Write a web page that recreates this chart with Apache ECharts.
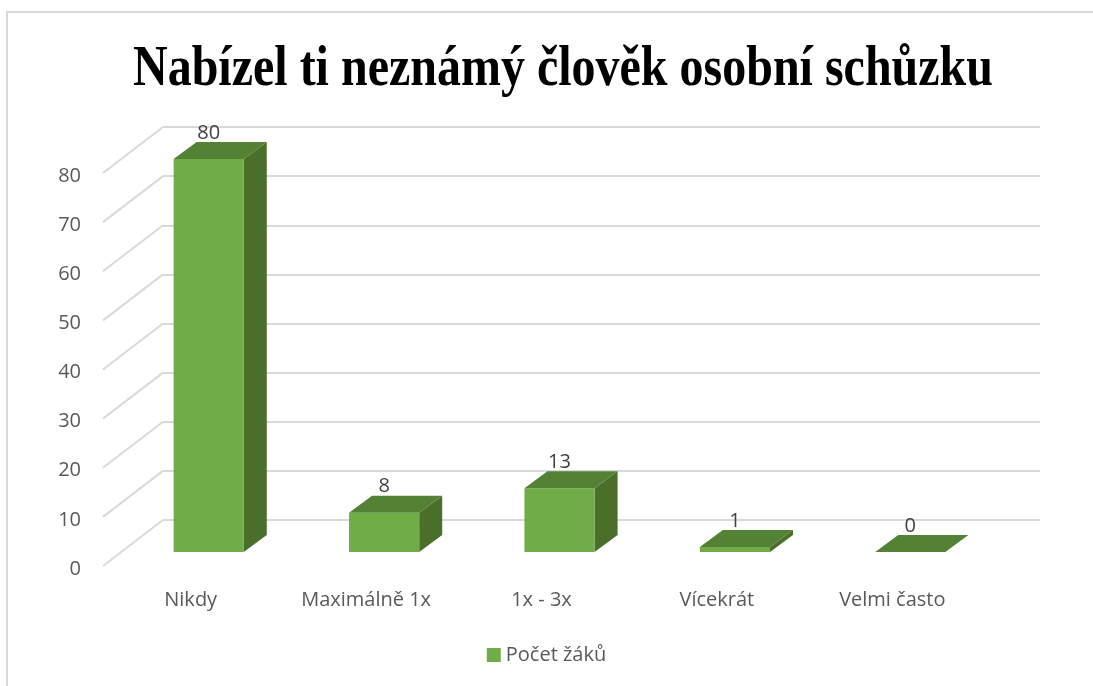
<!DOCTYPE html>
<html>
<head>
<meta charset="utf-8">
<script src="https://cdn.jsdelivr.net/npm/echarts@6/dist/echarts.min.js"></script>
<style>
  html, body { margin: 0; padding: 0; background: #fff; }
  #chart { width: 1093px; height: 686px; }
</style>
</head>
<body>
<div id="chart"></div>
<script>
const titleText = 'Nabízel ti neznámý člověk osobní schůzku'
const seriesName = 'Počet žáků'
const categories = ['Nikdy', 'Maximálně 1x', '1x - 3x', 'Vícekrát', 'Velmi často']
const values = [80, 8, 13, 1, 0]
const yTicks = [0, 10, 20, 30, 40, 50, 60, 70, 80]

// pseudo-3D: offset of bar faces from the back wall, in px
const FRONT = [-42, 32]
const BACK = [-19, 15]
const FLOOR = [-60, 46]

const titleFont = 'bold 58px "Liberation Serif", "Times New Roman", serif'
const ctx = document.createElement('canvas').getContext('2d')
ctx.font = titleFont
const titleScale = 860 / ctx.measureText(titleText).width

const chart = echarts.init(document.getElementById('chart'))

const renderBar = (params, api) => {
  const i = api.value(0)
  const v = api.value(1)
  const base = api.coord([i, 0])
  const top = api.coord([i, v])
  const w = api.size([1, 0])[0] * 0.4
  const fx = base[0] + FRONT[0] - w / 2
  const fy0 = base[1] + FRONT[1]
  const fy1 = top[1] + FRONT[1]
  const bx = base[0] + BACK[0] - w / 2
  const by0 = base[1] + BACK[1]
  const by1 = top[1] + BACK[1]
  return {
    type: 'group',
    children: [
      {
        type: 'polygon',
        shape: { points: [[fx + w, fy1], [bx + w, by1], [bx + w, by0], [fx + w, fy0]] },
        style: { fill: '#4A6F2A' },
      },
      {
        type: 'rect',
        shape: { x: fx, y: fy1, width: w, height: fy0 - fy1 },
        style: { fill: '#70AD47' },
      },
      {
        type: 'polygon',
        shape: { points: [[fx, fy1], [fx + w, fy1], [bx + w, by1], [bx, by1]] },
        style: { fill: '#548235' },
      },
      {
        type: 'text',
        x: fx + w / 2,
        y: by1 - 9,
        style: {
          text: String(v),
          fill: '#404040',
          font: '20px "Open Sans", sans-serif',
          align: 'center',
          verticalAlign: 'middle',
        },
      },
    ],
  }
}

const renderDiag = (params, api) => {
  const p = api.coord([0, api.value(1)])
  const x0 = p[0] - api.size([1, 0])[0] / 2
  return {
    type: 'line',
    shape: { x1: x0, y1: p[1], x2: x0 + FLOOR[0], y2: p[1] + FLOOR[1] },
    style: { stroke: '#D9D9D9', lineWidth: 2 },
  }
}

const option = {
  animation: false,
  graphic: [
    {
      type: 'rect',
      shape: { x: 7, y: 12, width: 1200, height: 800 },
      style: { fill: 'none', stroke: '#D9D9D9', lineWidth: 2 },
      z: -1,
    },
    {
      type: 'text',
      x: 563,
      y: 70,
      scaleX: titleScale,
      style: {
        text: titleText,
        font: titleFont,
        fill: '#000',
        align: 'center',
        verticalAlign: 'middle',
      },
    },
  ],
  legend: {
    data: [seriesName],
    bottom: 16,
    left: 'center',
    icon: 'rect',
    itemWidth: 14,
    itemHeight: 14,
    itemGap: 6,
    textStyle: { color: '#595959', fontSize: 20, fontFamily: 'Open Sans' },
  },
  grid: [
    // back wall
    { left: 163, right: 53, top: 127, bottom: 166 },
    // front edge of floor (for axis labels)
    { left: 103, right: 113, top: 176, bottom: 117 },
  ],
  xAxis: [
    {
      gridIndex: 0,
      type: 'category',
      data: categories,
      axisLine: { show: false },
      axisTick: { show: false },
      axisLabel: { show: false },
    },
    {
      gridIndex: 1,
      type: 'category',
      data: categories,
      axisLine: { show: false },
      axisTick: { show: false },
      axisLabel: { color: '#595959', fontSize: 20, fontFamily: 'Open Sans', margin: 21 },
    },
  ],
  yAxis: [
    {
      gridIndex: 0,
      type: 'value',
      min: 0,
      max: 80,
      interval: 10,
      axisLabel: { show: false },
      splitLine: { lineStyle: { color: '#D9D9D9', width: 2 } },
    },
    {
      gridIndex: 1,
      type: 'value',
      min: 0,
      max: 80,
      interval: 10,
      axisLabel: { color: '#595959', fontSize: 20, fontFamily: 'Open Sans', margin: 22 },
      splitLine: { show: false },
    },
  ],
  series: [
    {
      type: 'custom',
      name: 'diag',
      xAxisIndex: 0,
      yAxisIndex: 0,
      renderItem: renderDiag,
      data: yTicks.map((t) => [0, t]),
      z: 1,
      silent: true,
    },
    {
      type: 'custom',
      name: seriesName,
      xAxisIndex: 0,
      yAxisIndex: 0,
      itemStyle: { color: '#70AD47' },
      renderItem: renderBar,
      data: values.map((v, i) => [i, v]),
      z: 3,
    },
  ],
}

chart.setOption(option)
</script>
</body>
</html>
